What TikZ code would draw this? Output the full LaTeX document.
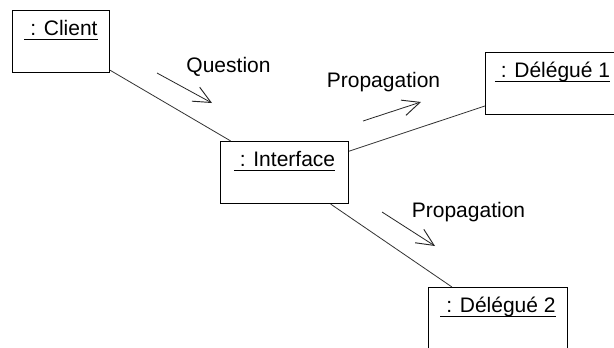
\documentclass[tikz,border=0pt]{standalone}
\usepackage{fontspec}
\setmainfont{Liberation Sans}
\usetikzlibrary{arrows.meta}
\tikzset{obj node/.style={draw,rectangle,anchor=north west,line width=0.8pt,inner
sep=0pt,text height=18.75pt,text depth=27.75pt,font=\fontsize{15.75}{18}\selectfont}}
\tikzset{msg node/.style={anchor=base,inner sep=0pt,font=\fontsize{15.75}{18}\selectfont}}
\tikzset{link/.style={line width=0.6pt,black!80}}
\tikzset{msg arrow/.style={-{Straight Barb[length=13pt,width=12pt,line width=0.7pt]},line width=0.6pt,black!85}}
% underlined object name, rule at a fixed depth
\newcommand{\objname}[1]{\setbox0=\hbox{\ #1}\rlap{\rule[-3pt]{\wd0}{0.7pt}}\box0}

\begin{document}
\begin{tikzpicture}[x=0.75pt,y=-0.75pt]
\clip (0,0) rectangle (614,347);
\fill[white] (0,0) rectangle (614,347);

% objects
\node[obj node,minimum width=72.75pt] (client) at (12,10) {\objname{: Client}};
\node[obj node,minimum width=96pt] (iface) at (220,141) {\objname{: Interface}};
\node[obj node,minimum width=100.5pt] (del1) at (485,52) {\objname{: Délégué 1}};
\node[obj node,minimum width=104.25pt] (del2) at (428,287) {\objname{: Délégué 2}};

% links
\draw[link] (client) -- (iface);
\draw[link] (iface) -- (del1);
\draw[link] (iface) -- (del2);

% messages
\coordinate (q1) at (157,73);
\coordinate (q2) at (212,103);
\coordinate (p1) at (363,121);
\coordinate (p2) at (421,102);
\coordinate (r1) at (382,212);
\coordinate (r2) at (435,246);

\draw[msg arrow] (q1) -- (q2);
\draw[msg arrow] (p1) -- (p2);
\draw[msg arrow] (r1) -- (r2);

\node[msg node] (question) at (228.5,72) {Question};
\node[msg node] (prop1) at (383.5,87) {Propagation};
\node[msg node] (prop2) at (468.5,217) {Propagation};
\end{tikzpicture}
\end{document}
